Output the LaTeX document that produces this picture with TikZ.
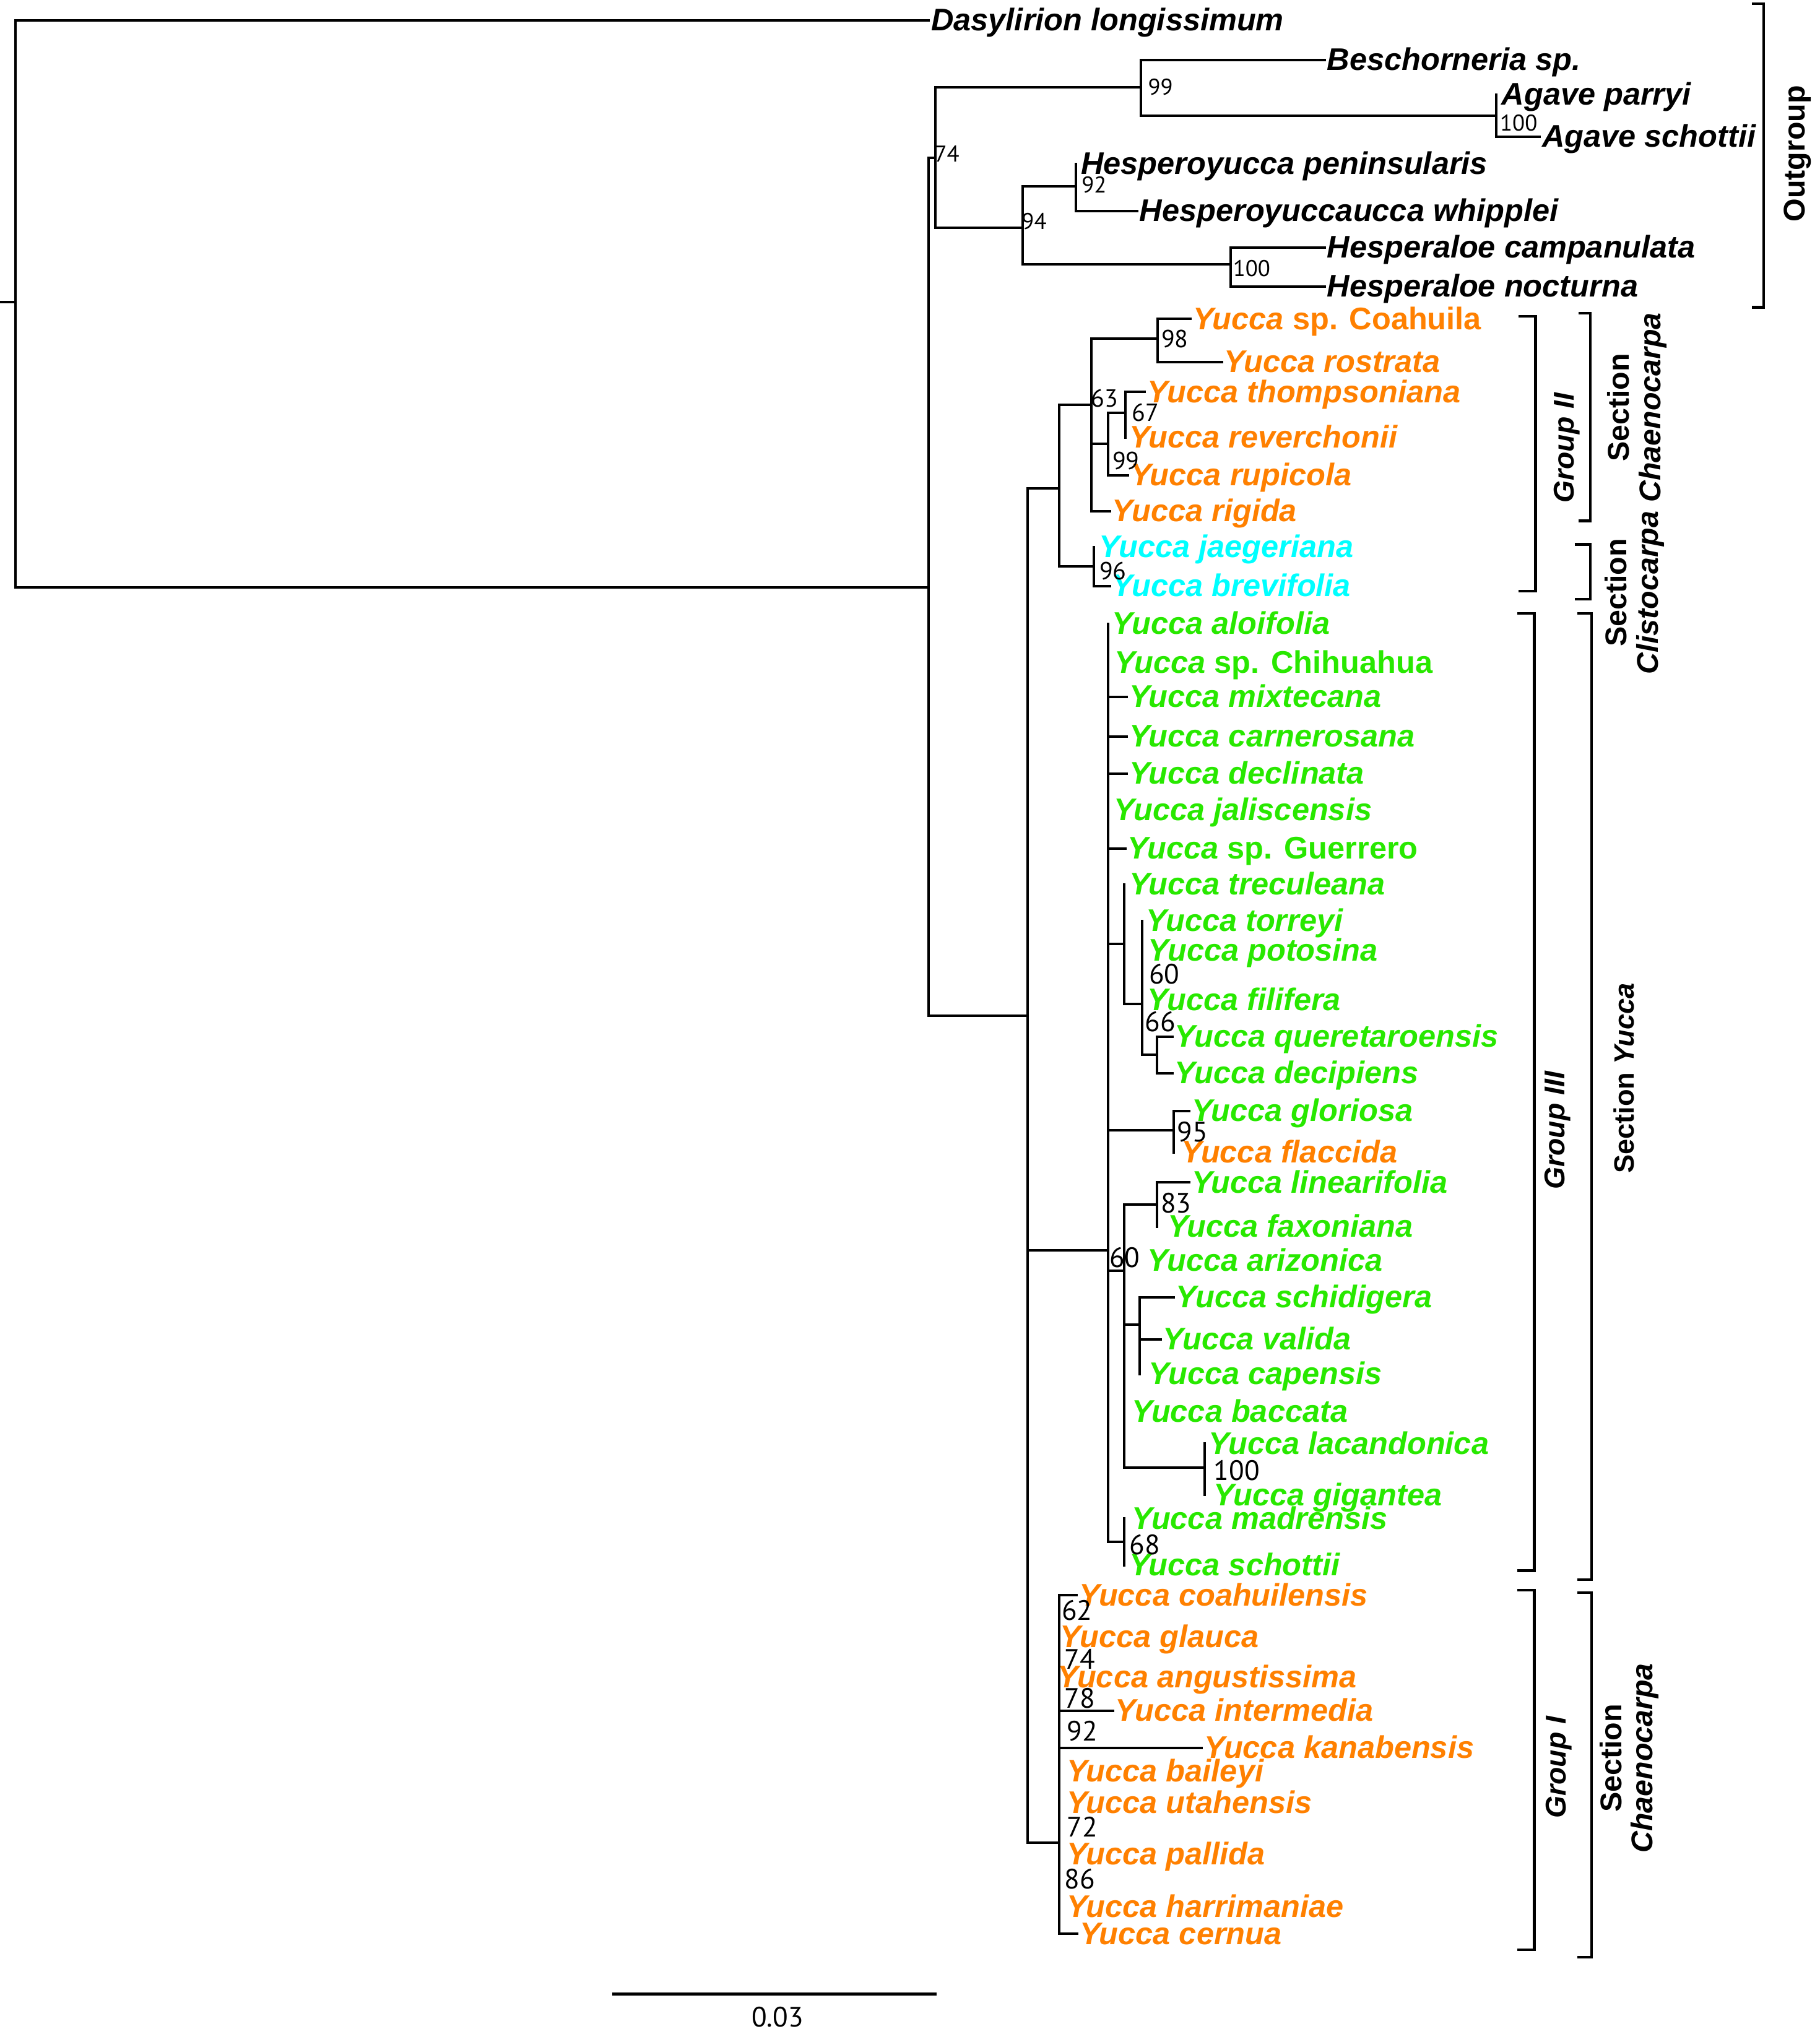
\documentclass[tikz,border=0pt]{standalone}
\usepackage{fontspec}
\setmainfont{Liberation Sans}
\newfontfamily\numfont{PT Sans}
\definecolor{yor}{RGB}{255,128,0}
\definecolor{ygr}{RGB}{40,232,0}
\definecolor{ycy}{RGB}{0,255,255}
\newcommand\phbr[2]{\draw (#1 |- #2) -- (#2);}
\newcommand\phvt[3]{\draw (#1 |- #2) -- (#1 |- #3);}
\newcommand\leaf[4]{\coordinate (t-#2) at (#3); \node[#1] (#2) at (t-#2) {#4};}
\begin{document}
\begin{tikzpicture}[x=1pt,y=-1pt,line width=1.9pt,line cap=rect,line join=miter,
  lab/.style={anchor=base west,yshift=-8pt,inner sep=1pt,font=\fontsize{24}{24}\selectfont\bfseries\itshape},
  olab/.style={lab,text=yor}, glab/.style={lab,text=ygr}, clab/.style={lab,text=ycy},
  bsm/.style={font=\numfont\fontsize{17.5}{17.5}\selectfont,inner sep=0pt},
  bmd/.style={font=\numfont\fontsize{19}{19}\selectfont,inner sep=0pt},
  blg/.style={font=\numfont\fontsize{21.5}{21.5}\selectfont,inner sep=0pt},
  brk/.style={line width=2pt,line cap=butt},
  side/.style={rotate=90,inner sep=0pt,align=center,font=\fontsize{23}{24}\selectfont\bfseries},
  gside/.style={side,font=\fontsize{22}{24}\selectfont\bfseries\itshape}]
\useasboundingbox (0,0) rectangle (1397,1568);

% internal nodes
\coordinate (R0) at (0,232);
\coordinate (R) at (12,232);
\coordinate (T) at (713,451);
\coordinate (OG) at (718,121);
\coordinate (N99) at (876,67);
\coordinate (A100) at (1149,89);
\coordinate (N94) at (785,175);
\coordinate (N92) at (826,143);
\coordinate (H100) at (945,203);
\coordinate (ING) at (789,780);
\coordinate (NI) at (813,375);
\coordinate (NJ) at (838,311);
\coordinate (NK) at (889,260);
\coordinate (NL) at (851,341);
\coordinate (NM) at (864,317);
\coordinate (NN) at (840,435);
\coordinate (G3) at (851,960);
\coordinate (NA) at (863,725);
\coordinate (NB) at (877,771);
\coordinate (NC) at (888.5,810);
\coordinate (GF) at (901,868);
\coordinate (ND) at (863,976);
\coordinate (NE) at (888.5,925);
\coordinate (NF) at (875,1017);
\coordinate (NG) at (925,1127);
\coordinate (NH) at (863,1184);
\coordinate (G1) at (813,1415);

% outgroup leaves
\leaf{lab}{das}{713,15.7}{Dasylirion longissimum}
\leaf{lab}{bes}{1017,46}{Beschorneria sp.}
\leaf{lab}{apa}{1151,72.5}{Agave parryi}
\leaf{lab}{asc}{1182,105}{Agave schottii}
\leaf{lab}{hpe}{828,126}{Hesperoyucca peninsularis}
\leaf{lab}{hwh}{873,162}{Hesperoyuccaucca whipplei}
\leaf{lab}{hca}{1017,190}{Hesperaloe campanulata}
\leaf{lab}{hno}{1017,220}{Hesperaloe nocturna}

% group II and Clistocarpa
\leaf{olab}{coa}{914,245}{Yucca {\upshape sp. Coahuila}}
\leaf{olab}{ros}{938,278}{Yucca rostrata}
\leaf{olab}{tho}{879,301}{Yucca thompsoniana}
\leaf{olab}{rev}{865,336}{Yucca reverchonii}
\leaf{olab}{rup}{866,365}{Yucca rupicola}
\leaf{olab}{rig}{852,392.6}{Yucca rigida}
\leaf{clab}{jae}{842,420}{Yucca jaegeriana}
\leaf{clab}{bre}{852,450}{Yucca brevifolia}

% group III
\leaf{glab}{alo}{852,479}{Yucca aloifolia}
\leaf{glab}{chi}{854,509}{Yucca {\upshape sp. Chihuahua}}
\leaf{glab}{mix}{865,535}{Yucca mixtecana}
\leaf{glab}{car}{865,565.6}{Yucca carnerosana}
\leaf{glab}{dcl}{865,594}{Yucca declinata}
\leaf{glab}{jal}{853.5,622}{Yucca jaliscensis}
\leaf{glab}{gue}{864,651.6}{Yucca {\upshape sp. Guerrero}}
\leaf{glab}{tre}{865,679}{Yucca treculeana}
\leaf{glab}{tor}{878,707}{Yucca torreyi}
\leaf{glab}{pot}{879.5,730}{Yucca potosina}
\leaf{glab}{fil}{879,768}{Yucca filifera}
\leaf{glab}{que}{900,796}{Yucca queretaroensis}
\leaf{glab}{dcp}{900,824}{Yucca decipiens}
\leaf{glab}{glo}{913,853}{Yucca gloriosa}
\leaf{olab}{fla}{905,885}{Yucca flaccida}
\leaf{glab}{lin}{913,908}{Yucca linearifolia}
\leaf{glab}{fax}{894.5,942}{Yucca faxoniana}
\leaf{glab}{ari}{879,968}{Yucca arizonica}
\leaf{glab}{sch}{901,996}{Yucca schidigera}
\leaf{glab}{val}{891,1028.5}{Yucca valida}
\leaf{glab}{cap}{880,1055}{Yucca capensis}
\leaf{glab}{bac}{867,1084}{Yucca baccata}
\leaf{glab}{lac}{926,1108.5}{Yucca lacandonica}
\leaf{glab}{gig}{930,1148}{Yucca gigantea}
\leaf{glab}{mad}{867,1166}{Yucca madrensis}
\leaf{glab}{sco}{865,1202}{Yucca schottii}

% group I
\leaf{olab}{chl}{826.6,1225}{Yucca coahuilensis}
\leaf{olab}{gla}{812,1257}{Yucca glauca}
\leaf{olab}{ang}{810,1288}{Yucca angustissima}
\leaf{olab}{int}{854.5,1313.5}{Yucca intermedia}
\leaf{olab}{kan}{922.6,1342}{Yucca kanabensis}
\leaf{olab}{bai}{817,1360}{Yucca baileyi}
\leaf{olab}{uta}{817,1384.5}{Yucca utahensis}
\leaf{olab}{pal}{817,1424}{Yucca pallida}
\leaf{olab}{har}{817,1464}{Yucca harrimaniae}
\leaf{olab}{cer}{827,1485}{Yucca cernua}

% branches
\draw (R0) -- (R);
\phvt{R}{t-das}{T}
\phbr{R}{t-das}
\phbr{R}{T}
\phvt{T}{OG}{ING}
\phbr{T}{OG}
\phbr{T}{ING}
\phvt{OG}{N99}{N94}
\phbr{OG}{N99}
\phbr{OG}{N94}
\phvt{N99}{t-bes}{A100}
\phbr{N99}{t-bes}
\phbr{N99}{A100}
\phvt{A100}{t-apa}{t-asc}
\phbr{A100}{t-asc}
\phvt{N94}{N92}{H100}
\phbr{N94}{N92}
\phbr{N94}{H100}
\phvt{N92}{t-hpe}{t-hwh}
\phbr{N92}{t-hwh}
\phvt{H100}{t-hca}{t-hno}
\phbr{H100}{t-hca}
\phbr{H100}{t-hno}
\phvt{ING}{NI}{G1}
\phbr{ING}{NI}
\phbr{ING}{G3}
\phbr{ING}{G1}
\phvt{NI}{NJ}{NN}
\phbr{NI}{NJ}
\phbr{NI}{NN}
\phvt{NJ}{NK}{t-rig}
\phbr{NJ}{NK}
\phbr{NJ}{NL}
\phbr{NJ}{t-rig}
\phvt{NK}{t-coa}{t-ros}
\phbr{NK}{t-coa}
\phbr{NK}{t-ros}
\phvt{NL}{NM}{t-rup}
\phbr{NL}{NM}
\phbr{NL}{t-rup}
\phvt{NM}{t-tho}{t-rev}
\phbr{NM}{t-tho}
\phvt{NN}{t-jae}{t-bre}
\phbr{NN}{t-bre}
\phvt{G3}{t-alo}{NH}
\phbr{G3}{t-mix}
\phbr{G3}{t-car}
\phbr{G3}{t-dcl}
\phbr{G3}{t-gue}
\phbr{G3}{NA}
\phbr{G3}{GF}
\phbr{G3}{ND}
\phbr{G3}{NH}
\phvt{NA}{t-tre}{NB}
\phbr{NA}{NB}
\phvt{NB}{t-tor}{NC}
\phbr{NB}{NC}
\phvt{NC}{t-que}{t-dcp}
\phbr{NC}{t-que}
\phbr{NC}{t-dcp}
\phvt{GF}{t-glo}{t-fla}
\phbr{GF}{t-glo}
\phvt{ND}{NE}{NG}
\phbr{ND}{NE}
\phbr{ND}{NF}
\phbr{ND}{NG}
\phvt{NE}{t-lin}{t-fax}
\phbr{NE}{t-lin}
\phvt{NF}{t-sch}{t-cap}
\phbr{NF}{t-sch}
\phbr{NF}{t-val}
\phvt{NG}{t-lac}{t-gig}
\phvt{NH}{t-mad}{t-sco}
\phvt{G1}{t-chl}{t-cer}
\phbr{G1}{t-chl}
\phbr{G1}{t-int}
\phbr{G1}{t-kan}
\phbr{G1}{t-cer}

% support values
\node[bsm] (b99a) at (891,67) {99};
\node[bsm] (b74a) at (727,118) {74};
\node[bsm] (b100a) at (1166,94.5) {100};
\node[bsm] (b92a) at (840,142) {92};
\node[bsm] (b94) at (794,170) {94};
\node[bsm] (b100b) at (961,206) {100};
\node[bmd] (b98) at (902,260) {98};
\node[bmd] (b63) at (848,306) {63};
\node[bmd] (b67) at (879.5,317) {67};
\node[bmd] (b99b) at (864.5,354) {99};
\node[bmd] (b96) at (854.5,438.5) {96};
\node[blg] (b60a) at (894,748) {60};
\node[blg] (b66) at (891,784.5) {66};
\node[blg] (b95) at (915.5,869) {95};
\node[blg] (b83) at (903,923.6) {83};
\node[blg] (b60b) at (863.5,965.5) {60};
\node[blg] (b100c) at (949.5,1129) {100};
\node[blg] (b68) at (879,1186) {68};
\node[blg] (b62) at (827,1236.5) {62};
\node[blg] (b74b) at (829,1274) {74};
\node[blg] (b78) at (829,1304) {78};
\node[blg] (b92b) at (831,1329) {92};
\node[blg] (b72) at (831,1403) {72};
\node[blg] (b86) at (829,1443) {86};

% brackets
\draw[brk] (1345,3) -- (1354,3) -- (1354,236) -- (1345,236);
\draw[brk] (1166,243) -- (1179,243) -- (1179,454) -- (1166,454);
\draw[brk] (1212,240.5) -- (1221,240.5) -- (1221,400) -- (1212,400);
\draw[brk] (1209,418) -- (1221,418) -- (1221,460) -- (1209,460);
\draw[brk] (1165,471) -- (1178,471) -- (1178,1206) -- (1165,1206);
\draw[brk] (1211,471) -- (1222,471) -- (1222,1213) -- (1211,1213);
\draw[brk] (1165,1221) -- (1178,1221) -- (1178,1497) -- (1165,1497);
\draw[brk] (1211,1223) -- (1222,1223) -- (1222,1503) -- (1211,1503);

% side labels
\node[side] (ogl) at (1380,118) {Outgroup};
\node[gside] (g2l) at (1203,344) {Group II};
\node[side] (sc1) at (1257,313) {Section\\\textit{Chaenocarpa}};
\node[side] (scl) at (1255,455) {Section\\\textit{Clistocarpa}};
\node[side,font=\fontsize{21.5}{22}\selectfont\bfseries] (syl) at (1247,828) {Section \textit{Yucca}};
\node[gside] (g3l) at (1196,868) {Group III};
\node[gside] (g1l) at (1197,1357) {Group I};
\node[side] (sc2) at (1251,1350) {Section\\\textit{Chaenocarpa}};

% scale bar
\coordinate (sb1) at (470,1531);
\coordinate (sb2) at (719,1531);
\draw[line width=2.2pt,line cap=butt] (sb1) -- (sb2);
\node[blg] (sbl) at (597,1549) {0.03};
\end{tikzpicture}
\end{document}
